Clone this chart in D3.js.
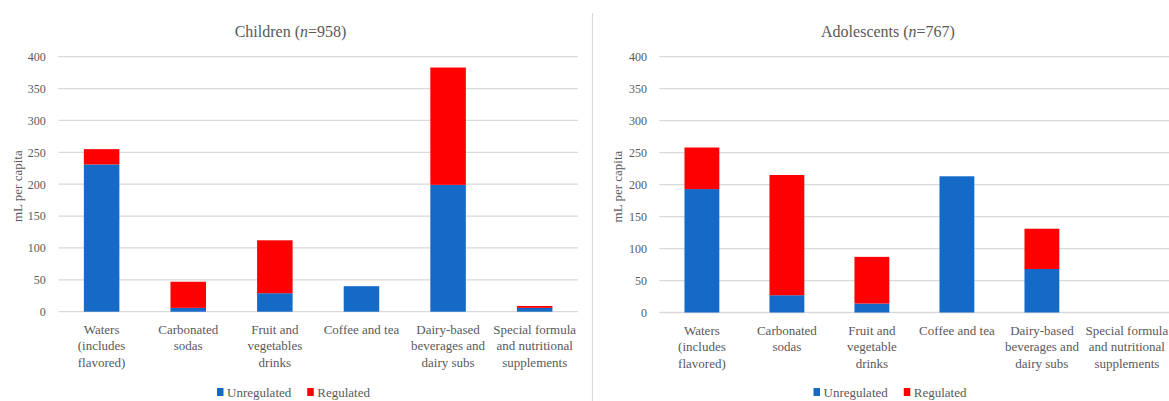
<!DOCTYPE html>
<html>
<head>
<meta charset="utf-8">
<script src="https://cdn.jsdelivr.net/npm/d3@7"></script>
<style>
  html, body { margin: 0; padding: 0; background: #fff; }
  svg { display: block; }
  text { font-family: "Liberation Serif", "Times New Roman", serif; fill: #595959; }
</style>
</head>
<body>
<svg id="chart" width="1169" height="401"></svg>
<script>
// ---- data ----
const seriesNames = ["Unregulated", "Regulated"];
const categoriesChildren = [
  ["Waters", "(includes", "flavored)"],
  ["Carbonated", "sodas"],
  ["Fruit and", "vegetables", "drinks"],
  ["Coffee and tea"],
  ["Dairy-based", "beverages and", "dairy subs"],
  ["Special formula", "and nutritional", "supplements"]
];
const categoriesAdolescents = [
  ["Waters", "(includes", "flavored)"],
  ["Carbonated", "sodas"],
  ["Fruit and", "vegetable", "drinks"],
  ["Coffee and tea"],
  ["Dairy-based", "beverages and", "dairy subs"],
  ["Special formula", "and nutritional", "supplements"]
];
const childrenUnregulated = [231, 6, 29, 40, 199, 6];
const childrenRegulated   = [24, 41, 83, 0, 184, 3];
const adolescentsUnregulated = [193, 27, 14, 213, 68, 0];
const adolescentsRegulated   = [65, 188, 73, 0, 63, 0];
const yTicks = [0, 50, 100, 150, 200, 250, 300, 350, 400];
const titleChildren = { label: "Children", n: "958" };
const titleAdolescents = { label: "Adolescents", n: "767" };

const colors = { Unregulated: "#1569c7", Regulated: "#ff0000" };
const svg = d3.select("#chart");

// divider between panels
svg.append("line").attr("x1", 592.5).attr("x2", 592.5).attr("y1", 13).attr("y2", 401)
  .attr("stroke", "#d9d9d9").attr("stroke-width", 1.2);

function panel(opts) {
  const g = svg.append("g");
  const keys = opts.categories.map((c, i) => "c" + i);
  const x = d3.scaleBand().domain(keys).range([opts.x0, opts.x1]).paddingInner(0.59).paddingOuter(0.295);
  const y = d3.scaleLinear().domain([0, 400]).range([opts.y0, opts.yTop]);

  // gridlines
  g.append("g").selectAll("line").data(yTicks).join("line")
    .attr("x1", opts.x0).attr("x2", opts.gridEnd)
    .attr("y1", d => y(d)).attr("y2", d => y(d))
    .attr("stroke", "#d9d9d9").attr("stroke-width", 1.3);

  // y axis labels
  const yAxis = d3.axisLeft(y).tickValues(yTicks).tickSize(0).tickPadding(12.5);
  const ya = g.append("g").attr("transform", `translate(${opts.x0},0)`).call(yAxis);
  ya.select(".domain").remove();
  ya.selectAll("text").style("font-family", '"Liberation Serif", serif').style("font-size", "12px").attr("fill", "#595959");

  // stacked bars
  const rows = keys.map((k, i) => ({ key: k, Unregulated: opts.unreg[i], Regulated: opts.reg[i] }));
  const stack = d3.stack().keys(seriesNames)(rows);
  g.append("g").selectAll("g").data(stack).join("g")
    .attr("fill", d => colors[d.key])
    .selectAll("rect").data(d => d).join("rect")
    .attr("x", d => x(d.data.key))
    .attr("width", x.bandwidth())
    .attr("y", d => y(d[1]))
    .attr("height", d => Math.max(0, y(d[0]) - y(d[1])));

  // category labels
  const xAxis = d3.axisBottom(x).tickSize(0).tickFormat("");
  const xa = g.append("g").attr("transform", `translate(0,${opts.y0})`).call(xAxis);
  xa.select(".domain").remove();
  xa.selectAll(".tick").each(function(d, i) {
    const t = d3.select(this).append("text")
      .attr("text-anchor", "middle")
      .attr("y", 22).attr("fill", "#595959")
      .style("font-family", '"Liberation Serif", serif').style("font-size", "13px");
    opts.categories[i].forEach((line, j) => {
      t.append("tspan").attr("x", 0).attr("dy", j === 0 ? 0 : 16.6).text(line);
    });
  });

  // y axis title
  g.append("text")
    .attr("transform", `translate(${opts.yTitleX},${(opts.y0 + opts.yTop) / 2 + 2}) rotate(-90)`)
    .attr("text-anchor", "middle").attr("dy", "0.35em")
    .style("font-size", "13px").text("mL per capita");

  // title
  const tt = g.append("text").attr("x", opts.titleX).attr("y", 37)
    .attr("text-anchor", "middle").style("font-size", "16px");
  tt.append("tspan").text(opts.title.label + " (");
  tt.append("tspan").style("font-style", "italic").text("n");
  tt.append("tspan").text("=" + opts.title.n + ")");

  // legend
  const lg = g.append("g");
  let cx = 0;
  seriesNames.forEach((s, i) => {
    lg.append("rect").attr("x", cx).attr("y", -4).attr("width", 6.5).attr("height", 8).attr("fill", colors[s]);
    const txt = lg.append("text").attr("x", cx + 10).attr("y", 0).attr("dy", "0.35em")
      .style("font-size", "13px").text(s);
    cx += 10 + txt.node().getComputedTextLength() + 16;
  });
  const lw = cx - 16;
  lg.attr("transform", `translate(${opts.legendX - lw / 2},392)`);
}

panel({
  categories: categoriesChildren, unreg: childrenUnregulated, reg: childrenRegulated,
  x0: 58.3, x1: 578, gridEnd: 578, y0: 311.7, yTop: 56.7,
  yTitleX: 17, titleX: 290.5, legendX: 293.5, title: titleChildren
});
panel({
  categories: categoriesAdolescents, unreg: adolescentsUnregulated, reg: adolescentsRegulated,
  x0: 659.4, x1: 1169.4, gridEnd: 1169, y0: 312.5, yTop: 56.7,
  yTitleX: 617, titleX: 888, legendX: 890, title: titleAdolescents
});
</script>
</body>
</html>
